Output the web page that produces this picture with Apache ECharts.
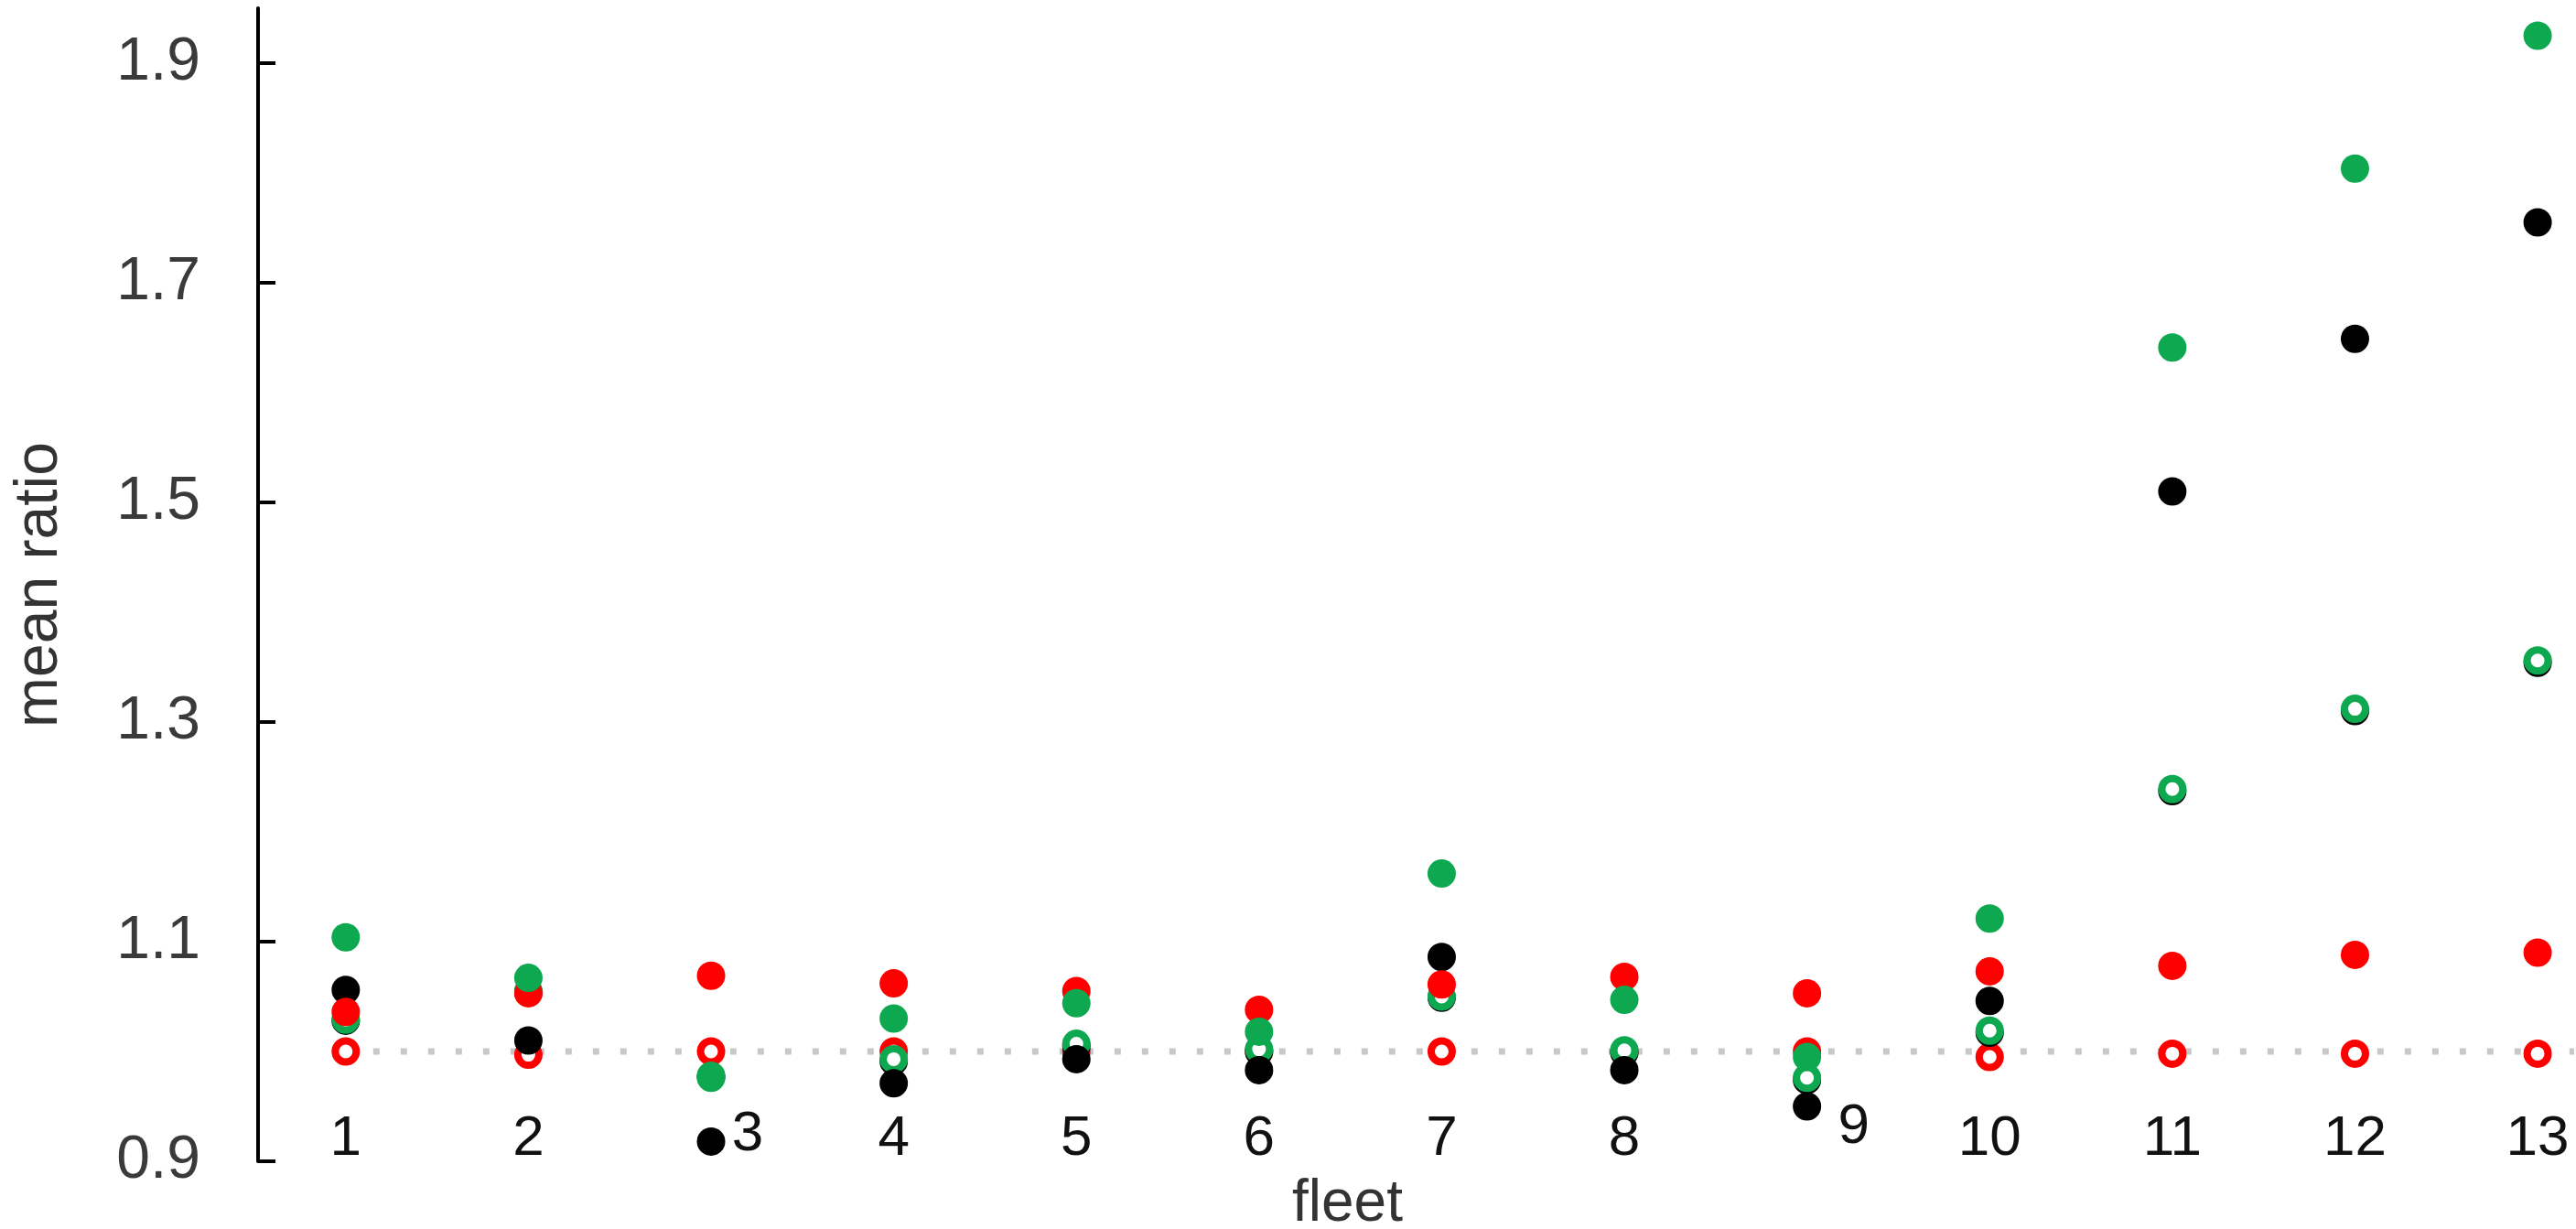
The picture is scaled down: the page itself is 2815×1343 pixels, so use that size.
<!DOCTYPE html>
<html>
<head>
<meta charset="utf-8"/>
<title>mean ratio by fleet</title>
<script src="https://cdn.jsdelivr.net/npm/echarts@6/dist/echarts.min.js"></script>
<style>
  html, body { margin: 0; padding: 0; background: #fff; }
  #main { width: 2815px; height: 1343px; }
</style>
</head>
<body>
<div id="main"></div>
<script>
// data
var fleets = [1, 2, 3, 4, 5, 6, 7, 8, 9, 10, 11, 12, 13];
var redFilled   = [1.036, 1.053, 1.069, 1.062, 1.055, 1.038, 1.061, 1.068, 1.053, 1.073, 1.078, 1.088, 1.090];
var redOpen     = [1.000, 0.997, 1.000, 1.000, 1.000, 1.000, 1.000, 1.000, 1.000, 0.995, 0.998, 0.998, 0.998];
var greenFilled = [1.104, 1.067, 0.976, 1.030, 1.044, 1.018, 1.162, 1.047, 0.995, 1.121, 1.641, 1.804, 1.925];
var greenOpen   = [1.029, 1.055, 0.978, 0.993, 1.007, 1.002, 1.050, 1.001, 0.976, 1.019, 1.239, 1.312, 1.356];
var blackFilled = [1.056, 1.010, 0.918, 0.971, 0.993, 0.983, 1.086, 0.983, 0.950, 1.046, 1.510, 1.649, 1.755];
var blackOpen   = [1.028, 1.054, 0.977, 0.991, 1.005, 1.000, 1.049, 0.999, 0.974, 1.017, 1.237, 1.310, 1.354];
var yTicks = [0.9, 1.1, 1.3, 1.5, 1.7, 1.9];
var refLine = 1.0;

var RED = '#ff0000', GREEN = '#0ea850', BLACK = '#000000';
var FONT = 'Liberation Sans, Arial, sans-serif';

function pairs(arr) {
  return fleets.map(function (f, i) { return [f, arr[i]]; });
}

function filled(name, arr, color, z) {
  return {
    name: name, type: 'scatter', z: z, symbol: 'circle', symbolSize: 31,
    itemStyle: { color: color, opacity: 1 },
    data: pairs(arr)
  };
}
function ring(name, arr, color, z) {
  return {
    name: name, type: 'scatter', z: z, symbol: 'circle', symbolSize: 23,
    itemStyle: { color: '#ffffff', borderColor: color, borderWidth: 8, opacity: 1 },
    data: pairs(arr)
  };
}

var myChart = echarts.init(document.getElementById('main'));
var option = {
  backgroundColor: '#ffffff',
  animation: false,
  grid: { left: 282, right: 2, top: 9, bottom: 74, containLabel: false, outerBoundsMode: 'none' },
  xAxis: {
    type: 'value', min: 0.52, max: 13.2,
    name: 'fleet', nameLocation: 'middle', nameGap: 15,
    nameTextStyle: { fontSize: 64, color: '#333', fontFamily: FONT, padding: [0, 150, 0, 0] },
    axisLine: { show: false },
    axisTick: { show: false },
    splitLine: { show: false },
    axisLabel: {
      inside: true, margin: -7, customValues: fleets,
      fontSize: 62, color: '#111', fontFamily: FONT,
      formatter: function (v) {
        if (v === 3) return '{s3|3}';
        if (v === 9) return '{s9|9}';
        return String(v);
      },
      rich: {
        s3: { fontSize: 62, color: '#111', fontFamily: FONT, padding: [0, 0, 5, 80] },
        s9: { fontSize: 62, color: '#111', fontFamily: FONT, padding: [0, 0, 13, 102] }
      }
    }
  },
  yAxis: {
    type: 'value', min: 0.9, max: 1.95,
    name: 'mean ratio', nameLocation: 'middle', nameGap: 205, nameRotate: 90,
    nameTextStyle: { fontSize: 66, color: '#333', fontFamily: FONT },
    axisLine: { show: true, lineStyle: { color: '#000', width: 4 } },
    axisTick: { show: true, inside: true, length: 19, customValues: yTicks, lineStyle: { color: '#000', width: 4 } },
    splitLine: { show: false },
    axisLabel: {
      customValues: yTicks, margin: 63,
      fontSize: 66, color: '#3a3a3a', fontFamily: FONT,
      formatter: function (v) { return v.toFixed(1); }
    }
  },
  series: [
    {
      name: 'ref', type: 'line', z: 1, symbol: 'none', silent: true,
      lineStyle: { color: '#c8c8c8', width: 7, type: [7, 23] },
      data: [[fleets[0], refLine], [13.2, refLine]]
    },
    ring('red open', redOpen, RED, 2),
    ring('black open', blackOpen, BLACK, 3),
    ring('green open', greenOpen, GREEN, 4),
    filled('black', blackFilled, BLACK, 5),
    filled('red', redFilled, RED, 6),
    filled('green', greenFilled, GREEN, 7)
  ]
};
myChart.setOption(option);
</script>
</body>
</html>
